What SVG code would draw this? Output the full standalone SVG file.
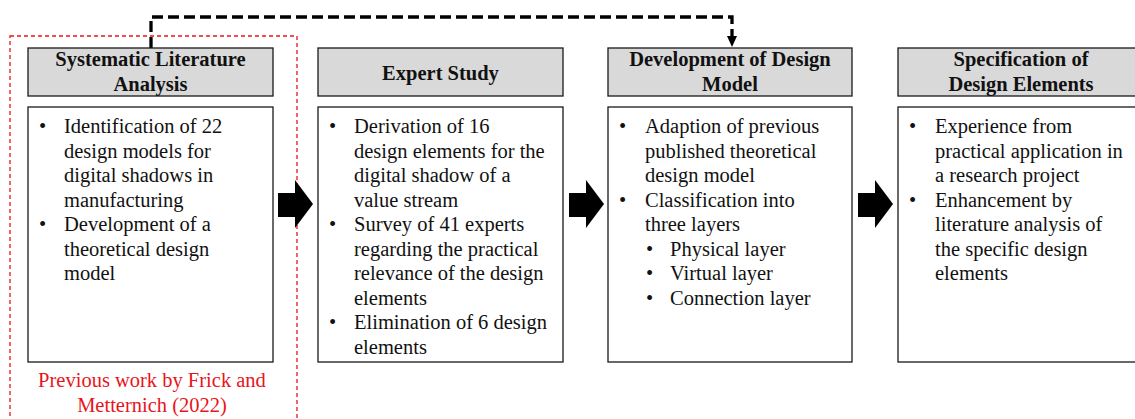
<svg xmlns="http://www.w3.org/2000/svg" xmlns:xlink="http://www.w3.org/1999/xlink" width="1135" height="419" viewBox="0 0 1135 419">
  <style>
    .hdr { fill: #d9d9d9; stroke: #1a1a1a; stroke-width: 1.3; }
    .body { fill: #ffffff; stroke: #1a1a1a; stroke-width: 1.3; }
    .ht { font-family: "Liberation Serif", "Times New Roman", serif; font-size: 20.5px; font-weight: bold; fill: #111; text-anchor: middle; }
    .bt { font-family: "Liberation Serif", "Times New Roman", serif; font-size: 20.5px; fill: #111; }
    .red { font-family: "Liberation Serif", "Times New Roman", serif; font-size: 20.5px; fill: #e8141b; text-anchor: middle; }
    .flow { fill: #000; }
  </style>
  <defs>
    <!-- block arrow between stages, drawn at origin -->
    <path id="blockArrow" d="M0,13 H17 V0 L35,24 L17,48 V37 H0 Z"/>
  </defs>

  <rect width="1135" height="419" fill="#ffffff"/>

  <!-- frame around previous work -->
  <rect x="10" y="36" width="287" height="400" fill="none" stroke="#e8141b" stroke-width="1.3" stroke-dasharray="4 3"/>

  <g id="connectors">
    <path d="M151,48 V17 H732 V37" fill="none" stroke="#000" stroke-width="3.3" stroke-dasharray="11 5"/>
    <path d="M727,36 L737,36 L732,47 Z" fill="#000"/>
    <use xlink:href="#blockArrow" class="flow" x="278" y="180"/>
    <use xlink:href="#blockArrow" class="flow" x="569" y="180"/>
    <use xlink:href="#blockArrow" class="flow" x="858" y="180"/>
  </g>

  <g id="stage-literature">
    <rect class="hdr" x="28" y="48" width="245" height="48"/>
    <text class="ht" x="150.5" y="66">Systematic Literature</text>
    <text class="ht" x="150.5" y="90.5">Analysis</text>
    <rect class="body" x="28" y="107" width="245" height="255"/>
    <text class="bt">
      <tspan x="39" y="133">•</tspan><tspan x="64" y="133">Identification of 22</tspan>
      <tspan x="64" y="157.5">design models for</tspan>
      <tspan x="64" y="182">digital shadows in</tspan>
      <tspan x="64" y="206.5">manufacturing</tspan>
      <tspan x="39" y="231">•</tspan><tspan x="64" y="231">Development of a</tspan>
      <tspan x="64" y="255.5">theoretical design</tspan>
      <tspan x="64" y="280">model</tspan>
    </text>
    <text class="red" x="152" y="387">Previous work by Frick and</text>
    <text class="red" x="152" y="411.5">Metternich (2022)</text>
  </g>

  <g id="stage-expert">
    <rect class="hdr" x="318" y="48" width="245" height="48"/>
    <text class="ht" x="440.5" y="80">Expert Study</text>
    <rect class="body" x="318" y="107" width="245" height="255"/>
    <text class="bt">
      <tspan x="329" y="133">•</tspan><tspan x="354" y="133">Derivation of 16</tspan>
      <tspan x="354" y="157.5">design elements for the</tspan>
      <tspan x="354" y="182">digital shadow of a</tspan>
      <tspan x="354" y="206.5">value stream</tspan>
      <tspan x="329" y="231">•</tspan><tspan x="354" y="231">Survey of 41 experts</tspan>
      <tspan x="354" y="255.5">regarding the practical</tspan>
      <tspan x="354" y="280">relevance of the design</tspan>
      <tspan x="354" y="304.5">elements</tspan>
      <tspan x="329" y="329">•</tspan><tspan x="354" y="329">Elimination of 6 design</tspan>
      <tspan x="354" y="353.5">elements</tspan>
    </text>
  </g>

  <g id="stage-model">
    <rect class="hdr" x="608" y="48" width="244" height="48"/>
    <text class="ht" x="730" y="66">Development of Design</text>
    <text class="ht" x="730" y="90.5">Model</text>
    <rect class="body" x="608" y="107" width="244" height="255"/>
    <text class="bt">
      <tspan x="619" y="133">•</tspan><tspan x="645" y="133">Adaption of previous</tspan>
      <tspan x="645" y="157.5">published theoretical</tspan>
      <tspan x="645" y="182">design model</tspan>
      <tspan x="619" y="206.5">•</tspan><tspan x="645" y="206.5">Classification into</tspan>
      <tspan x="645" y="231">three layers</tspan>
      <tspan x="646" y="255.5">•</tspan><tspan x="670" y="255.5">Physical layer</tspan>
      <tspan x="646" y="280">•</tspan><tspan x="670" y="280">Virtual layer</tspan>
      <tspan x="646" y="304.5">•</tspan><tspan x="670" y="304.5">Connection layer</tspan>
    </text>
  </g>

  <g id="stage-specification">
    <rect class="hdr" x="898" y="48" width="245" height="48"/>
    <text class="ht" x="1021" y="66">Specification of</text>
    <text class="ht" x="1021" y="90.5">Design Elements</text>
    <rect class="body" x="898" y="107" width="245" height="255"/>
    <text class="bt">
      <tspan x="909" y="133">•</tspan><tspan x="935" y="133">Experience from</tspan>
      <tspan x="935" y="157.5">practical application in</tspan>
      <tspan x="935" y="182">a research project</tspan>
      <tspan x="909" y="206.5">•</tspan><tspan x="935" y="206.5">Enhancement by</tspan>
      <tspan x="935" y="231">literature analysis of</tspan>
      <tspan x="935" y="255.5">the specific design</tspan>
      <tspan x="935" y="280">elements</tspan>
    </text>
  </g>
</svg>
